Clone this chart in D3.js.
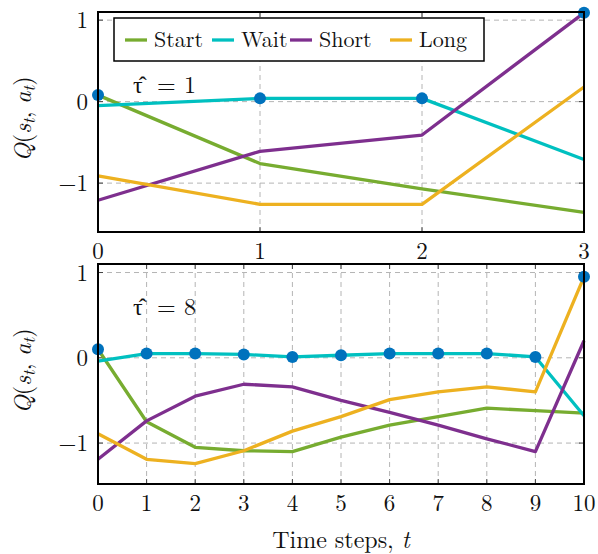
<!DOCTYPE html>
<html>
<head>
<meta charset="utf-8">
<script src="https://cdn.jsdelivr.net/npm/d3@7"></script>
<style>
  body { margin: 0; background: #fff; }
</style>
</head>
<body>
<div id="chart"></div>
<script>
const seriesNames = ["Start", "Wait", "Short", "Long"];
const seriesColors = ["#77ac30", "#00c0c0", "#7e2f8e", "#edb120"];

// panel 1: tau hat = 1
const steps1 = [0, 1, 2, 3];
const start1 = [0.08, -0.76, -1.07, -1.36];
const wait1 = [-0.05, 0.04, 0.04, -0.71];
const short1 = [-1.21, -0.61, -0.41, 1.09];
const long1 = [-0.91, -1.26, -1.26, 0.18];

// panel 2: tau hat = 8
const steps2 = [0, 1, 2, 3, 4, 5, 6, 7, 8, 9, 10];
const start2 = [0.1, -0.75, -1.05, -1.09, -1.1, -0.93, -0.79, -0.69, -0.59, -0.62, -0.65];
const wait2 = [-0.04, 0.05, 0.05, 0.04, 0.01, 0.03, 0.05, 0.05, 0.05, 0.01, -0.68];
const short2 = [-1.19, -0.74, -0.45, -0.31, -0.34, -0.5, -0.64, -0.79, -0.95, -1.1, 0.2];
const long2 = [-0.89, -1.19, -1.24, -1.09, -0.86, -0.69, -0.49, -0.4, -0.34, -0.4, 0.95];

const yTicks = [-1, 0, 1];

const FONT = '"Latin Modern Roman"';
const W = 598, H = 554;
const svg = d3.select("#chart").append("svg")
    .attr("width", W)
    .attr("height", H);

function txt(sel) {
    return sel.append("text").style("font-family", FONT).attr("fill", "#111");
}

function drawPanel(cfg) {
    const x = d3.scaleLinear().domain(cfg.xDomain).range([98, 584]);
    const y = d3.scaleLinear().domain(cfg.yDomain).range([cfg.bottom, cfg.top]);
    const g = svg.append("g");

    // grid
    g.selectAll(".gx").data(cfg.xTicks).enter().append("line")
        .attr("x1", d => x(d)).attr("x2", d => x(d))
        .attr("y1", cfg.top).attr("y2", cfg.bottom)
        .attr("stroke", "#b4b4b4").attr("stroke-width", 1)
        .attr("stroke-dasharray", "5,4");
    g.selectAll(".gy").data(yTicks).enter().append("line")
        .attr("x1", 98).attr("x2", 584)
        .attr("y1", d => y(d)).attr("y2", d => y(d))
        .attr("stroke", "#b4b4b4").attr("stroke-width", 1)
        .attr("stroke-dasharray", "5,4");

    // inner tick marks on all sides
    const tl = 5;
    cfg.xTicks.forEach(t => {
        g.append("line").attr("x1", x(t)).attr("x2", x(t))
            .attr("y1", cfg.bottom).attr("y2", cfg.bottom - tl)
            .attr("stroke", "#444").attr("stroke-width", 1);
        g.append("line").attr("x1", x(t)).attr("x2", x(t))
            .attr("y1", cfg.top).attr("y2", cfg.top + tl)
            .attr("stroke", "#444").attr("stroke-width", 1);
    });
    yTicks.forEach(t => {
        g.append("line").attr("x1", 98).attr("x2", 98 + tl)
            .attr("y1", y(t)).attr("y2", y(t))
            .attr("stroke", "#444").attr("stroke-width", 1);
        g.append("line").attr("x1", 584).attr("x2", 584 - tl)
            .attr("y1", y(t)).attr("y2", y(t))
            .attr("stroke", "#444").attr("stroke-width", 1);
    });

    // lines
    const line = d3.line().x((d, i) => x(cfg.steps[i])).y(d => y(d));
    cfg.series.forEach((s, k) => {
        g.append("path").datum(s)
            .attr("d", line)
            .attr("fill", "none")
            .attr("stroke", seriesColors[k])
            .attr("stroke-width", 3.3)
            .attr("stroke-linejoin", "round");
    });

    // greedy action markers: max Q at each step
    const maxQ = cfg.steps.map((t, i) => d3.max(cfg.series, s => s[i]));
    g.selectAll(".dot").data(maxQ).enter().append("circle")
        .attr("cx", (d, i) => x(cfg.steps[i]))
        .attr("cy", d => y(d))
        .attr("r", 6)
        .attr("fill", "#0072bd");

    // frame
    g.append("rect")
        .attr("x", 98).attr("y", cfg.top)
        .attr("width", 584 - 98).attr("height", cfg.bottom - cfg.top)
        .attr("fill", "none").attr("stroke", "#000").attr("stroke-width", 2);

    // tick labels
    cfg.xTicks.forEach(t => {
        txt(g).attr("x", x(t)).attr("y", cfg.bottom + 27)
            .attr("text-anchor", "middle").attr("font-size", 23)
            .text(t);
    });
    yTicks.forEach(t => {
        txt(g).attr("x", 88).attr("y", y(t) + 8)
            .attr("text-anchor", "end").attr("font-size", 23)
            .text(t < 0 ? "\u2212" + Math.abs(t) : t);
    });

    // y label Q(s_t, a_t)
    const cy = (cfg.top + cfg.bottom) / 2 - 3;
    const yl = txt(g)
        .attr("transform", `translate(31,${cy}) rotate(-90)`)
        .attr("text-anchor", "middle").attr("font-size", 24);
    yl.append("tspan").attr("font-style", "italic").text("Q");
    yl.append("tspan").text("(");
    yl.append("tspan").attr("font-style", "italic").text("s");
    yl.append("tspan").attr("font-style", "italic").attr("font-size", 17).attr("dy", 4).text("t");
    yl.append("tspan").attr("dy", -4).text(", ");
    yl.append("tspan").attr("font-style", "italic").text("a");
    yl.append("tspan").attr("font-style", "italic").attr("font-size", 17).attr("dy", 4).text("t");
    yl.append("tspan").attr("dy", -4).text(")");

    // annotation tau hat = n
    const ay = cfg.top + cfg.annotDy;
    const an = txt(g).attr("y", ay).attr("font-size", 24);
    an.append("tspan").attr("x", 133).text("\u03c4\u0302");
    an.append("tspan").attr("x", 157).text("=");
    an.append("tspan").attr("x", 184).text(cfg.tau);
}

drawPanel({
    xDomain: [0, 3], yDomain: [-1.6, 1.1], top: 12, bottom: 232,
    xTicks: steps1, steps: steps1, series: [start1, wait1, short1, long1],
    tau: 1, annotDy: 81
});
drawPanel({
    xDomain: [0, 10], yDomain: [-1.48, 1.1], top: 264, bottom: 484,
    xTicks: steps2, steps: steps2, series: [start2, wait2, short2, long2],
    tau: 8, annotDy: 51
});

// legend
const lg = svg.append("g");
lg.append("rect").attr("x", 114).attr("y", 18).attr("width", 370).attr("height", 43)
    .attr("fill", "#fff").attr("stroke", "#000").attr("stroke-width", 1.5);
const legX = [125, 212, 290, 390];
seriesNames.forEach((n, k) => {
    lg.append("line").attr("x1", legX[k]).attr("x2", legX[k] + 22)
        .attr("y1", 40).attr("y2", 40)
        .attr("stroke", seriesColors[k]).attr("stroke-width", 3.3);
    txt(lg).attr("x", legX[k] + 29).attr("y", 47)
        .attr("font-size", 22).text(n);
});

// x axis title
const xt = txt(svg).attr("x", 341).attr("y", 548)
    .attr("text-anchor", "middle").attr("font-size", 24);
xt.append("tspan").text("Time steps, ");
xt.append("tspan").attr("font-style", "italic").text("t");
</script>
</body>
</html>
